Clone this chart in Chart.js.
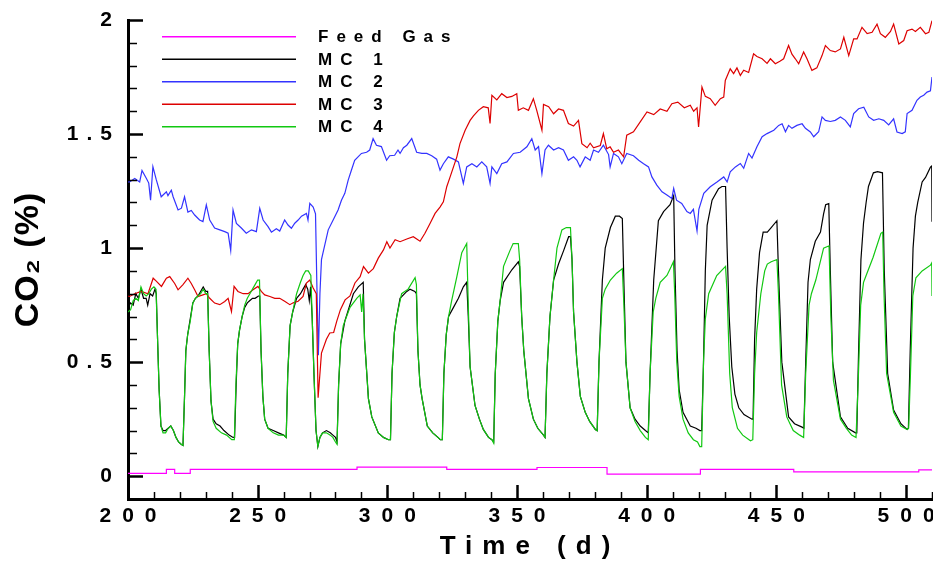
<!DOCTYPE html>
<html>
<head>
<meta charset="utf-8">
<script src="https://cdn.jsdelivr.net/npm/chart.js@4.4.1/dist/chart.umd.min.js"></script>
<style>
html,body{margin:0;padding:0;background:#fff;}
#wrap{width:933px;height:562px;}
</style>
</head>
<body>
<div id="wrap"><canvas id="c" width="933" height="562"></canvas></div>
<script>
const seriesNames = ['Feed Gas', 'MC 1', 'MC 2', 'MC 3', 'MC 4'];
const xTickLabels = [200, 250, 300, 350, 400, 450, 500];
const yTickLabels = [0, 0.5, 1, 1.5, 2];

const feedGas = [[200,0.012],[214.8,0.012],[214.8,0.03],[218,0.03],[218,0.012],[224,0.012],[224,0.03],[288.3,0.03],[288.3,0.04],[322.9,0.04],[322.9,0.03],[357.7,0.03],[357.7,0.038],[384.7,0.038],[384.7,0.009],[420.7,0.009],[420.7,0.03],[456.7,0.03],[456.7,0.019],[504.9,0.019],[504.9,0.028],[510,0.028]];

const mc1 = [[200,0.74],[201,0.76],[202,0.75],[203,0.80],[204,0.78],[205,0.82],[206,0.78],[207,0.78],[207.6,0.75],[208.5,0.80],[209.5,0.79],[210.4,0.82],[210.9,0.80],
[211.4,0.60],[212,0.38],[212.7,0.22],[213.5,0.20],[214.5,0.20],[215.5,0.21],[216.5,0.22],[217.5,0.20],[218.5,0.17],[219.5,0.15],[220.5,0.14],[221.2,0.135],
[221.8,0.35],[222.3,0.55],[223,0.62],[224,0.69],[225,0.76],[226,0.78],[227,0.79],[228,0.81],[229,0.83],[230,0.81],[230.7,0.81],
[231.3,0.55],[232,0.33],[232.8,0.25],[234,0.23],[235.5,0.22],[237,0.20],[239,0.18],[240.5,0.17],[241.1,0.17],
[241.7,0.40],[242.3,0.58],[243,0.64],[244,0.70],[245,0.74],[246,0.76],[247,0.77],[248,0.78],[249,0.78],[250.3,0.79],[250.8,0.79],
[251.3,0.55],[252,0.35],[252.7,0.25],[254,0.21],[256,0.20],[258,0.19],[260,0.18],[261,0.17],
[261.6,0.45],[262.5,0.66],[263.5,0.72],[265,0.78],[266.5,0.80],[267.5,0.82],[268.5,0.84],[269.3,0.82],[269.9,0.77],[270.4,0.83],
[271,0.70],[271.7,0.45],[272.5,0.20],[273.2,0.13],[274,0.17],[275,0.19],[276.5,0.20],[278,0.19],[279,0.18],[280,0.17],[280.6,0.15],
[281.2,0.40],[282,0.58],[283.6,0.68],[286.9,0.80],[288.8,0.83],[290.7,0.85],
[291.2,0.60],[292.7,0.34],[294,0.26],[296.5,0.19],[298.5,0.17],[300.4,0.16],[301.2,0.16],
[301.8,0.45],[302.7,0.63],[303.6,0.70],[304.9,0.78],[307.5,0.81],[308.7,0.82],[310.6,0.81],[311.2,0.80],
[311.8,0.55],[312.6,0.40],[313.4,0.34],[315.4,0.22],[317.5,0.19],[319.5,0.17],[320.4,0.16],[321.2,0.16],
[321.8,0.45],[322.7,0.62],[323.6,0.70],[325.5,0.74],[327.4,0.78],[329.3,0.83],[330.6,0.85],
[331.2,0.70],[331.9,0.48],[333.8,0.31],[335.5,0.25],[337,0.205],[339,0.17],[340.3,0.16],[341,0.15],
[341.6,0.45],[342.6,0.68],[343.5,0.77],[344.8,0.85],[348,0.905],[350.5,0.94],[351,0.92],
[351.8,0.70],[352.6,0.55],[354.4,0.34],[356.3,0.25],[358,0.21],[360.2,0.18],[360.8,0.17],
[361.5,0.45],[362.7,0.70],[364.1,0.86],[366,0.93],[368,0.99],[369.9,1.05],[370.6,1.05],
[371.2,0.95],[371.8,0.72],[373.1,0.50],[374.4,0.35],[376.3,0.28],[378,0.24],[380.2,0.205],[380.9,0.20],
[381.6,0.50],[382.9,0.86],[384,1.00],[386,1.09],[387.9,1.14],[389.5,1.14],[390.6,1.13],
[391.2,0.85],[392,0.50],[393.6,0.30],[395.5,0.25],[397.5,0.22],[399.5,0.20],[400.6,0.19],
[401.3,0.45],[402.7,0.86],[404.5,1.12],[406.5,1.16],[409,1.19],[410.4,1.23],
[410.9,0.90],[411.7,0.55],[412.5,0.38],[414,0.28],[416.8,0.22],[419,0.21],[420.5,0.20],[421.2,0.20],
[421.9,0.50],[422.6,0.90],[423.3,1.10],[425.2,1.21],[427.7,1.26],[429,1.27],[430.4,1.27],
[431,1.00],[431.8,0.70],[432.8,0.48],[434,0.36],[435.5,0.30],[437.5,0.27],[440.6,0.25],[441,0.25],
[441.6,0.60],[442.4,0.82],[443.5,0.98],[444.9,1.07],[446.5,1.07],[448,1.09],[450.2,1.12],
[450.8,0.90],[452.1,0.50],[454.7,0.26],[457,0.23],[459.9,0.215],[460.6,0.21],
[461.3,0.50],[462.2,0.85],[463.1,0.95],[465,1.03],[467,1.07],[468.2,1.15],[469,1.19],[470.2,1.195],
[470.8,0.90],[471.7,0.50],[474.7,0.26],[477.5,0.21],[480.5,0.19],[481,0.19],
[481.7,0.55],[482.6,0.95],[483.6,1.11],[484.6,1.20],[485.5,1.27],[487.4,1.33],[489,1.335],[490.9,1.33],
[491.6,0.90],[492.9,0.45],[495.2,0.29],[498,0.23],[500.4,0.205],[500.9,0.21],
[501.6,0.55],[502.7,1.00],[503.6,1.14],[504.5,1.20],[506.2,1.29],[507.5,1.31],[509.4,1.355],[509.9,1.36],[510,1.115]];

const mc2 = [[200,1.29],[200.6,1.29],[202.6,1.305],[204.5,1.29],[205.4,1.34],[207.1,1.305],[208,1.285],[208.7,1.21],[209.6,1.357],[210.9,1.30],[212.8,1.225],[214.8,1.247],[215.4,1.23],[216.7,1.254],[217.4,1.225],[219.3,1.167],[220.6,1.175],[221.8,1.225],[223.1,1.158],[224.4,1.165],[225.7,1.145],[227.6,1.123],[228.9,1.116],[230.2,1.189],[231.5,1.123],[233.4,1.088],[235.4,1.08],[237.3,1.072],[238.6,1.065],[239.6,0.99],[240.5,1.167],[241.8,1.108],[243.7,1.088],[245.6,1.065],[247.6,1.08],[249.5,1.072],[250.8,1.174],[252.1,1.123],[254,1.094],[255.3,1.07],[257.2,1.085],[258.5,1.075],[260.4,1.123],[261.7,1.101],[263,1.087],[264.3,1.109],[265.6,1.123],[266.9,1.14],[268.8,1.152],[269.4,1.123],[270.1,1.196],[271.4,1.18],[272.3,1.15],[272.8,0.85],[273.4,0.53],[274,0.80],[274.6,0.95],[275.2,0.98],[277.2,1.08],[279.1,1.123],[281,1.167],[282.3,1.21],[283.6,1.24],[284.9,1.298],[286.1,1.34],[287.4,1.385],[288.7,1.40],[290,1.415],[292,1.42],[293.2,1.43],[294.5,1.48],[295.8,1.451],[297.7,1.445],[299.7,1.385],[300.9,1.405],[302.8,1.407],[304.1,1.43],[304.9,1.415],[306.2,1.44],[307.5,1.451],[309.4,1.48],[311.3,1.42],[313.3,1.415],[315.2,1.415],[317.1,1.405],[319,1.39],[320.3,1.342],[321.6,1.37],[323.5,1.40],[325.5,1.39],[327.4,1.378],[329.3,1.284],[330.6,1.356],[332.6,1.37],[334.5,1.356],[336.4,1.378],[338.3,1.356],[339.6,1.284],[340.3,1.356],[342.2,1.327],[344.1,1.37],[346.1,1.378],[348.6,1.415],[351.2,1.42],[353.8,1.444],[355.7,1.48],[357,1.43],[358.3,1.445],[359.6,1.327],[360.8,1.43],[362.1,1.451],[364.1,1.43],[366,1.44],[367.9,1.43],[369.8,1.385],[371.8,1.40],[373.1,1.385],[374.3,1.356],[376.3,1.40],[378.2,1.385],[379.5,1.43],[381.4,1.42],[383.3,1.451],[385.3,1.41],[385.9,1.356],[387.2,1.415],[389.1,1.40],[390.4,1.37],[392.3,1.415],[394.9,1.405],[396.9,1.385],[398.8,1.37],[400.7,1.356],[402,1.312],[403.9,1.276],[405.9,1.247],[407.8,1.233],[409.7,1.218],[410.4,1.262],[411.5,1.21],[413.5,1.196],[415.5,1.16],[416.8,1.152],[418,1.17],[419.4,1.075],[420.1,1.17],[422,1.24],[424.5,1.269],[427.1,1.29],[429.7,1.312],[431,1.29],[432.2,1.334],[434.2,1.356],[436.1,1.371],[437.4,1.35],[439.3,1.415],[440.6,1.395],[442.5,1.444],[444.5,1.488],[446.4,1.502],[449,1.517],[450.9,1.538],[452.2,1.545],[453.5,1.51],[454.7,1.538],[456,1.525],[457.9,1.538],[459.9,1.545],[461.2,1.525],[463.1,1.509],[464.4,1.488],[466.3,1.51],[467.6,1.575],[468.9,1.56],[470.8,1.555],[472.7,1.56],[474.7,1.575],[476.6,1.56],[478.5,1.531],[479.8,1.59],[481.7,1.611],[483.7,1.618],[485.6,1.575],[487.5,1.56],[489.5,1.567],[491.4,1.56],[493.3,1.54],[495.2,1.567],[496.5,1.509],[498.5,1.502],[499.7,1.51],[500.4,1.59],[502.3,1.604],[504.2,1.648],[505.5,1.662],[506.8,1.67],[508.1,1.684],[509.4,1.69],[510,1.75]];

const mc3 = [[200,0.79],[200.6,0.788],[202.6,0.80],[205.1,0.81],[207.7,0.80],[209.7,0.868],[210.9,0.855],[212.9,0.832],[214.8,0.868],[216.1,0.875],[218,0.845],[219.3,0.817],[221.2,0.84],[223.1,0.868],[224.4,0.845],[225.7,0.817],[227,0.788],[228.9,0.795],[230.2,0.80],[231.5,0.78],[233.4,0.759],[235.4,0.752],[237.3,0.766],[238.6,0.78],[239.9,0.722],[240.9,0.832],[242.4,0.81],[244.4,0.80],[246.3,0.80],[248.2,0.817],[250.1,0.832],[251.4,0.81],[252.7,0.795],[254.7,0.788],[256.6,0.78],[258.5,0.78],[260.4,0.767],[262.4,0.752],[263.7,0.76],[265.6,0.767],[267.5,0.788],[268.8,0.847],[270.1,0.86],[271.4,0.825],[272.6,0.80],[273.3,0.344],[274.6,0.54],[276.5,0.60],[277.8,0.628],[279.3,0.63],[280.5,0.68],[281.9,0.73],[283.7,0.773],[285.6,0.79],[287.5,0.847],[289.5,0.875],[290.8,0.919],[292.7,0.89],[294.6,0.91],[296.5,0.956],[298.5,0.992],[299.8,1.028],[301,1.00],[303,1.037],[304.9,1.028],[307.5,1.04],[310,1.05],[312.6,1.03],[314.5,1.065],[316.5,1.109],[318.4,1.152],[320.3,1.18],[321.6,1.203],[322.9,1.269],[324.2,1.312],[325.5,1.356],[326.8,1.40],[328,1.458],[330,1.517],[331.9,1.56],[333.2,1.58],[335.1,1.604],[337,1.62],[338.9,1.615],[339.6,1.546],[340.3,1.67],[342.2,1.65],[344.1,1.677],[346.1,1.66],[348,1.665],[349.9,1.677],[350.5,1.604],[352.4,1.615],[354.4,1.604],[356.3,1.655],[357.6,1.604],[359.6,1.517],[360.2,1.63],[362.2,1.62],[364.1,1.589],[366,1.61],[367.9,1.604],[369.8,1.546],[371.8,1.535],[373.7,1.56],[375,1.458],[377,1.44],[378.2,1.46],[379.5,1.44],[382.1,1.45],[383.3,1.502],[384.6,1.435],[385.9,1.444],[387.2,1.42],[389.1,1.43],[391.1,1.40],[392.3,1.495],[394.9,1.51],[397.5,1.553],[400.1,1.597],[402.7,1.585],[405.2,1.61],[407.8,1.60],[409.7,1.633],[412,1.64],[414.5,1.615],[416.8,1.626],[418.1,1.60],[419.4,1.615],[420,1.531],[421.3,1.706],[422.6,1.665],[424.5,1.655],[426.4,1.626],[428.4,1.655],[429.7,1.662],[430.3,1.735],[432.2,1.786],[433.5,1.765],[434.8,1.79],[436.1,1.757],[437.4,1.78],[439.3,1.77],[441.2,1.852],[442.5,1.84],[444.5,1.83],[446.4,1.81],[447.7,1.83],[449.6,1.808],[451.5,1.82],[452.8,1.83],[454.7,1.888],[456,1.85],[457.3,1.83],[458.6,1.808],[460.5,1.86],[461.8,1.83],[463.7,1.779],[465.6,1.79],[467.6,1.844],[468.9,1.888],[470.8,1.866],[472.7,1.86],[474.7,1.873],[476,1.924],[477.9,1.844],[479.8,1.917],[481.1,1.917],[483,1.968],[485,1.94],[486.9,1.946],[488.8,1.982],[490.1,1.94],[492,1.924],[494,1.95],[495.2,1.982],[497.2,1.895],[499.1,1.91],[500.4,1.953],[502.3,1.96],[503.6,1.95],[505.5,1.968],[507.5,1.94],[508.8,1.946],[510,1.997]];

const mc4 = [[200,0.72],[201,0.73],[202,0.77],[203,0.78],[204,0.77],[205,0.83],[206,0.80],[207,0.79],[208,0.80],[209,0.82],[210,0.83],[210.8,0.82],
[211.4,0.60],[212,0.38],[212.7,0.22],[213.5,0.19],[214.5,0.19],[215.5,0.21],[216.5,0.22],[217.5,0.20],[218.5,0.17],[219.5,0.15],[220.5,0.14],[221.2,0.135],
[221.8,0.35],[222.3,0.55],[223,0.62],[224,0.68],[225,0.76],[226,0.78],[227,0.79],[228,0.80],[229,0.82],[230,0.80],[230.7,0.80],
[231.3,0.55],[232,0.33],[232.8,0.24],[234,0.21],[236,0.19],[238,0.18],[240,0.16],[241,0.16],
[241.6,0.40],[242.3,0.58],[243,0.64],[244,0.70],[245,0.75],[246,0.78],[247,0.80],[248,0.82],[249,0.84],[250,0.86],[250.7,0.86],
[251.3,0.55],[252,0.35],[252.7,0.25],[254,0.21],[256,0.19],[258,0.18],[260,0.18],[261,0.17],
[261.6,0.45],[262.5,0.66],[263.5,0.72],[265,0.80],[266.5,0.85],[267.5,0.88],[268.5,0.90],[269.5,0.90],[270.5,0.88],
[271,0.70],[271.7,0.45],[272.5,0.20],[273.2,0.13],[274,0.17],[275,0.19],[276.5,0.19],[278,0.18],[279,0.17],[280,0.15],[280.6,0.14],
[281.2,0.40],[282,0.58],[283,0.66],[285.6,0.74],[288.2,0.78],[289.5,0.795],[290.1,0.72],[290.6,0.80],
[291.2,0.60],[292.7,0.34],[294,0.26],[296.5,0.19],[298.5,0.17],[300.4,0.16],[301.2,0.16],
[301.8,0.45],[302.7,0.63],[303.6,0.70],[305.5,0.80],[308,0.82],[310.7,0.87],[311.2,0.84],
[311.8,0.55],[312.6,0.40],[313.4,0.34],[315.4,0.22],[317.5,0.19],[319.5,0.17],[320.4,0.16],[321.2,0.16],
[321.8,0.45],[322.7,0.62],[323.6,0.70],[324.8,0.77],[326.8,0.875],[328.7,0.98],[330.6,1.02],
[331.2,0.75],[331.9,0.48],[333.8,0.31],[335.5,0.25],[337,0.205],[339,0.17],[340.3,0.16],[341,0.145],
[341.6,0.45],[342.6,0.68],[343.5,0.77],[344.8,0.92],[347.3,0.99],[348.5,1.02],[350.5,1.02],[351,0.95],
[351.8,0.70],[352.6,0.55],[354.4,0.34],[356.3,0.25],[358,0.21],[360.2,0.18],[360.8,0.17],
[361.5,0.45],[362.7,0.70],[364.1,0.86],[365.4,1.00],[367.3,1.08],[369,1.09],[370.6,1.09],
[371.2,0.95],[371.8,0.72],[373.1,0.50],[374.4,0.35],[376.3,0.28],[378,0.24],[380.2,0.205],[380.9,0.20],
[381.6,0.50],[382.9,0.78],[384,0.82],[386,0.86],[388.4,0.89],[390.6,0.91],
[391.2,0.75],[392,0.50],[393.6,0.30],[395.5,0.24],[397.5,0.20],[399.5,0.17],[400.6,0.16],
[401.3,0.45],[402.5,0.72],[403.5,0.78],[405.2,0.85],[407.8,0.88],[409.5,0.92],[410.3,0.94],
[410.8,0.80],[411.6,0.50],[412.5,0.35],[414,0.25],[416,0.19],[418,0.16],[419.6,0.15],[420.5,0.13],[421.2,0.13],
[421.9,0.50],[422.6,0.69],[423.9,0.80],[427,0.88],[430.4,0.92],
[431,0.80],[432,0.45],[433,0.30],[435,0.21],[437,0.18],[440,0.155],[440.9,0.16],
[441.6,0.45],[442.4,0.63],[444,0.80],[445.5,0.90],[446.5,0.93],[448,0.94],[450.2,0.95],
[450.8,0.80],[452,0.40],[454,0.26],[456.5,0.20],[459,0.18],[460.5,0.17],
[461.3,0.45],[462.6,0.75],[463.5,0.80],[465.2,0.86],[468.2,1.00],[470.3,1.01],
[471,0.70],[472,0.42],[474.7,0.25],[477,0.21],[479,0.18],[480.7,0.17],
[481.5,0.40],[482.5,0.75],[483.6,0.85],[484.6,0.88],[487.3,0.96],[490.3,1.065],[491,1.07],
[491.5,0.80],[492.5,0.45],[495.2,0.28],[498,0.22],[500.4,0.205],[501,0.21],
[501.7,0.45],[502.6,0.79],[503.8,0.87],[506.2,0.90],[509.4,0.925],[509.9,0.935],[510,0.79]];

const seriesData = [feedGas, mc1, mc2, mc3, mc4];
const seriesColors = ['#ff00ff', '#000000', '#3333ff', '#dd0000', '#11c811'];
const drawOrder = [4, 3, 2, 1, 0];

const FONT = "'Liberation Sans', Arial, sans-serif";

const spacing = { x: { ticks: 11, title: 10 }, y: { ticks: 8, title: 1 } };

const spacingPlugin = {
  id: 'spacing',
  beforeDraw(chart) {
    ['x', 'y'].forEach(id => {
      const s = chart.scales[id];
      if (!s || s._spacedPatch) return;
      s._spacedPatch = true;
      const dl = s.drawLabels, dt = s.drawTitle;
      s.drawLabels = function (a) {
        const c = this.ctx;
        c.save();
        c.letterSpacing = spacing[id].ticks + 'px';
        if (id === 'x') c.translate(spacing[id].ticks / 2, 0);
        dl.call(this, a);
        c.restore();
      };
      s.drawTitle = function (a) {
        const c = this.ctx;
        c.save();
        c.letterSpacing = spacing[id].title + 'px';
        dt.call(this, a);
        c.restore();
      };
    });
  }
};

const tickMarks = {
  id: 'tickMarks',
  afterDraw(chart) {
    const { ctx, scales: { x, y }, chartArea: a } = chart;
    ctx.save();
    ctx.strokeStyle = '#000';
    ctx.lineCap = 'butt';
    for (let i = 0; i <= 31; i++) {
      const v = 200 + i * 10;
      const px = Math.round(x.getPixelForValue(v)) + 0.5;
      const major = i % 5 === 0;
      ctx.lineWidth = major ? 2.5 : 1.5;
      ctx.beginPath();
      ctx.moveTo(px, a.bottom);
      ctx.lineTo(px, a.bottom - (major ? 14 : 7));
      ctx.stroke();
    }
    for (let i = 0; i <= 20; i++) {
      const v = i / 10;
      const py = Math.round(y.getPixelForValue(v)) + 0.5;
      const major = i % 5 === 0;
      ctx.lineWidth = major ? 2.5 : 1.5;
      ctx.beginPath();
      ctx.moveTo(a.left, py);
      ctx.lineTo(a.left + (major ? 15 : 9), py);
      ctx.stroke();
    }
    ctx.restore();
  }
};

const legendBox = {
  id: 'legendBox',
  afterDraw(chart) {
    const c = chart.ctx;
    c.save();
    c.font = 'bold 17px ' + FONT;
    c.letterSpacing = '8px';
    c.textBaseline = 'middle';
    c.textAlign = 'left';
    seriesNames.forEach((name, i) => {
      const yy = 36.7 + i * 22.5;
      c.strokeStyle = seriesColors[i];
      c.lineWidth = 1.5;
      c.beginPath();
      c.moveTo(162, yy);
      c.lineTo(296, yy);
      c.stroke();
      c.fillStyle = '#000';
      c.fillText(name, 318, yy + 1);
    });
    c.restore();
  }
};

const datasets = seriesNames.map((name, i) => ({
  label: name,
  data: seriesData[i].map(p => ({ x: p[0], y: p[1] })),
  borderColor: seriesColors[i],
  backgroundColor: seriesColors[i],
  borderWidth: 1.2,
  pointRadius: 0,
  tension: 0,
  fill: false,
  order: drawOrder[i]
}));

new Chart(document.getElementById('c'), {
  type: 'line',
  data: { datasets },
  options: {
    responsive: false,
    animation: false,
    events: [],
    devicePixelRatio: 1,
    layout: { padding: { top: 20, right: 1, left: 0, bottom: 0 } },
    plugins: { legend: { display: false }, tooltip: { enabled: false } },
    scales: {
      x: {
        type: 'linear',
        min: 200,
        max: 510,
        afterBuildTicks: s => { s.ticks = xTickLabels.map(v => ({ value: v })); },
        afterFit: s => { s.height = 63; s.paddingLeft = 0; s.paddingRight = 0; },
        grid: { display: false, drawTicks: false },
        border: { display: true, color: '#000', width: 3 },
        ticks: { color: '#000', padding: 5, maxRotation: 0, autoSkip: false, callback: v => String(v), font: { family: FONT, size: 21, weight: 'bold' } },
        title: { display: true, text: 'Time (d)', color: '#000', padding: { top: 0, bottom: 0 }, font: { family: FONT, size: 26, weight: 'bold' } }
      },
      y: {
        type: 'linear',
        min: -0.1,
        max: 2,
        afterBuildTicks: s => { s.ticks = yTickLabels.map(v => ({ value: v })); },
        afterFit: s => { s.width = 128; s.paddingTop = 0; s.paddingBottom = 0; },
        grid: { display: false, drawTicks: false },
        border: { display: true, color: '#000', width: 3 },
        ticks: { color: '#000', padding: 8, callback: v => String(v), font: { family: FONT, size: 21, weight: 'bold' } },
        title: { display: true, text: 'CO₂ (%)', color: '#000', padding: { top: 8, bottom: 0 }, font: { family: FONT, size: 34, weight: 'bold' } }
      }
    }
  },
  plugins: [spacingPlugin, tickMarks, legendBox]
});
</script>
</body>
</html>
